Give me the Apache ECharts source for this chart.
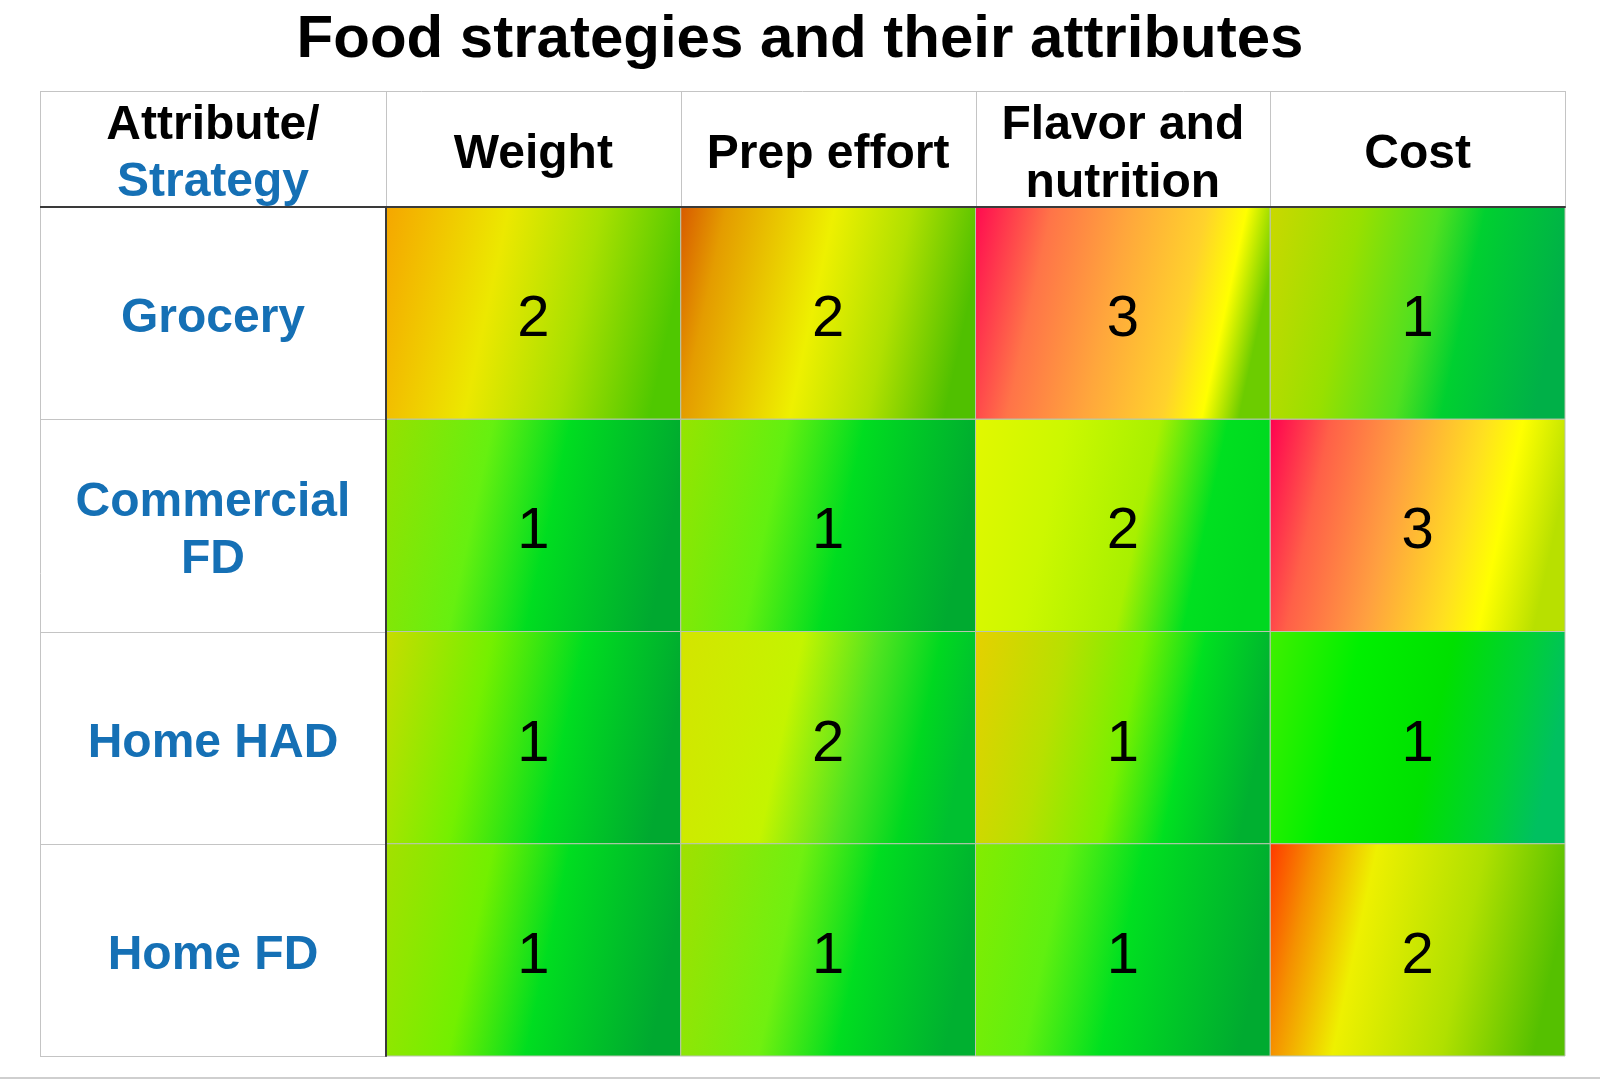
<!DOCTYPE html>
<html>
<head>
<meta charset="utf-8">
<script src="https://cdn.jsdelivr.net/npm/echarts@6/dist/echarts.min.js"></script>
<style>
  html, body { margin: 0; padding: 0; background: #ffffff; }
  #chart { width: 1600px; height: 1080px; }
</style>
</head>
<body>
<div id="chart"></div>
<script>
// ---------------- DATA ----------------
const titleText = 'Food strategies and their attributes';
const attributes = ['Weight', 'Prep effort', 'Flavor and\nnutrition', 'Cost'];
const strategies = ['Grocery', 'Commercial\nFD', 'Home HAD', 'Home FD'];
const groceryScores    = [2, 2, 3, 1];
const commercialScores = [1, 1, 2, 3];
const homeHadScores    = [1, 2, 1, 1];
const homeFdScores     = [1, 1, 1, 2];
const scoreRows = [groceryScores, commercialScores, homeHadScores, homeFdScores];

// ---------------- STYLES (cell gradient colour stops) ----------------
const cellStops = [
  [ // Grocery
    [[0, '#f5a600'], [0.4, '#ece800'], [0.7, '#a8e000'], [1, '#4fc800']],
    [[0, '#d85a00'], [0.15, '#e49c00'], [0.5, '#eef000'], [0.75, '#b0e000'], [1, '#50c000']],
    [[0, '#ff0a50'], [0.25, '#ff7448'], [0.5, '#ffa63c'], [0.75, '#ffd22c'], [0.88, '#ffff00'], [1, '#6ccc00']],
    [[0, '#cad800'], [0.3, '#98e000'], [0.55, '#50e020'], [0.7, '#00d030'], [1, '#00b048']]
  ],
  [ // Commercial FD
    [[0, '#96e000'], [0.35, '#66f010'], [0.6, '#00dd20'], [1, '#00a830']],
    [[0, '#96e400'], [0.35, '#62f010'], [0.6, '#00dd20'], [1, '#00aa30']],
    [[0, '#e2f800'], [0.3, '#ccf800'], [0.6, '#a8f000'], [0.82, '#00e020'], [1, '#00d820']],
    [[0, '#ff0050'], [0.2, '#ff6048'], [0.45, '#ffa040'], [0.7, '#ffe020'], [0.82, '#ffff00'], [1, '#b8e000']]
  ],
  [ // Home HAD
    [[0, '#c8dc00'], [0.35, '#74f000'], [0.65, '#00dd20'], [1, '#00a830']],
    [[0, '#d4e400'], [0.4, '#c4f400'], [0.65, '#50e420'], [0.85, '#00d820'], [1, '#00c030']],
    [[0, '#e6d000'], [0.3, '#b8e000'], [0.55, '#78f000'], [0.75, '#00e020'], [1, '#00b030']],
    [[0, '#40f000'], [0.3, '#00f000'], [0.6, '#00e000'], [0.85, '#00d038'], [1, '#00c060']]
  ],
  [ // Home FD
    [[0, '#a4e000'], [0.35, '#72f000'], [0.6, '#00dd20'], [1, '#00a830']],
    [[0, '#a0e000'], [0.4, '#70f010'], [0.65, '#00dd20'], [1, '#00b030']],
    [[0, '#84ec00'], [0.3, '#60f010'], [0.55, '#00e020'], [1, '#00aa30']],
    [[0, '#ff3800'], [0.15, '#f59000'], [0.35, '#eef000'], [0.7, '#b0e000'], [1, '#55c000']]
  ]
];

// ---------------- LAYOUT ----------------
const GRID = { left: 386, right: 35, top: 207, bottom: 24 };
const HEADER_TOP = 91;
const TABLE_LEFT = 40;
const W = 1600, H = 1080;
const FONT = '"Liberation Sans", Arial, Helvetica, sans-serif';
const BLUE = '#1570b5';
const LINE_GRAY = '#c4c4c4';
const LABEL_SIZE = 48;
const LABEL_CENTER_X = (TABLE_LEFT + GRID.left) / 2;

const cellData = [];
scoreRows.forEach((row, r) => row.forEach((v, c) => cellData.push([c, r, v])));

const gridW = W - GRID.left - GRID.right;
const gridH = H - GRID.top - GRID.bottom;
const colW = gridW / attributes.length;
const rowH = gridH / strategies.length;
const tableRight = W - GRID.right;
const tableBottom = H - GRID.bottom;

const graphics = [];
// header frame
graphics.push({ type: 'line', shape: { x1: TABLE_LEFT, y1: HEADER_TOP + 0.5, x2: tableRight, y2: HEADER_TOP + 0.5 }, style: { stroke: LINE_GRAY, lineWidth: 1 } });
for (let i = 0; i <= attributes.length; i++) {
  const x = Math.round(GRID.left + i * colW) + 0.5;
  graphics.push({ type: 'line', shape: { x1: x, y1: HEADER_TOP, x2: x, y2: GRID.top }, style: { stroke: LINE_GRAY, lineWidth: 1 } });
}
// label column frame
graphics.push({ type: 'line', shape: { x1: TABLE_LEFT + 0.5, y1: HEADER_TOP, x2: TABLE_LEFT + 0.5, y2: tableBottom }, style: { stroke: LINE_GRAY, lineWidth: 1 } });
for (let j = 1; j <= strategies.length; j++) {
  const y = Math.round(GRID.top + j * rowH) + 0.5;
  graphics.push({ type: 'line', shape: { x1: TABLE_LEFT, y1: y, x2: GRID.left, y2: y }, style: { stroke: LINE_GRAY, lineWidth: 1 } });
}
// dark header rule across label column
graphics.push({ type: 'line', z: 10, shape: { x1: TABLE_LEFT, y1: GRID.top, x2: GRID.left, y2: GRID.top }, style: { stroke: '#3a3a3a', lineWidth: 2 } });
// corner label
graphics.push({
  type: 'text', x: LABEL_CENTER_X, y: (HEADER_TOP + GRID.top) / 2 + 5,
  style: {
    text: '{a|Attribute/}\n{b|Strategy}',
    align: 'center', verticalAlign: 'middle',
    rich: {
      a: { fontFamily: FONT, fontSize: LABEL_SIZE, fontWeight: 'bold', fill: '#000', lineHeight: 57 },
      b: { fontFamily: FONT, fontSize: LABEL_SIZE, fontWeight: 'bold', fill: BLUE, lineHeight: 57 }
    }
  }
});
// bottom page rule
graphics.push({ type: 'line', shape: { x1: 0, y1: 1078, x2: W, y2: 1078 }, style: { stroke: '#cfcfcf', lineWidth: 2 } });

const chart = echarts.init(document.getElementById('chart'), null, { renderer: 'canvas' });
chart.setOption({
  backgroundColor: '#ffffff',
  animation: false,
  title: {
    text: titleText,
    left: 'center',
    top: 5,
    textStyle: { fontFamily: FONT, fontSize: 60, fontWeight: 'bold', color: '#000' }
  },
  grid: { left: GRID.left, right: GRID.right, top: GRID.top, bottom: GRID.bottom, containLabel: false },
  xAxis: {
    type: 'category',
    data: attributes,
    position: 'top',
    z: 5,
    axisLine: { show: true, lineStyle: { color: '#3a3a3a', width: 2 } },
    axisTick: { show: false },
    splitLine: { show: false },
    axisLabel: {
      interval: 0,
      margin: 52,
      verticalAlign: 'middle',
      fontFamily: FONT, fontSize: LABEL_SIZE, fontWeight: 'bold', color: '#000', lineHeight: 58
    }
  },
  yAxis: {
    type: 'category',
    data: strategies,
    inverse: true,
    z: 5,
    axisLine: { show: true, lineStyle: { color: '#3a3a3a', width: 2 } },
    axisTick: { show: false },
    splitLine: { show: false },
    // row labels are drawn by the series below (slightly below the row centre, as in the reference)
    axisLabel: { show: false }
  },
  series: [{
    type: 'custom',
    data: cellData,
    encode: { x: 0, y: 1 },
    clip: false,
    renderItem: function (params, api) {
      const c = api.value(0), r = api.value(1), v = api.value(2);
      const p = api.coord([c, r]);
      const s = api.size([1, 1]);
      const stops = cellStops[r][c].map(st => ({ offset: st[0], color: st[1] }));
      const children = [
        {
          type: 'rect',
          shape: { x: p[0] - s[0] / 2, y: p[1] - s[1] / 2, width: s[0], height: s[1] },
          style: {
            fill: { type: 'linear', x: 0, y: 0, x2: 1, y2: 0.3, colorStops: stops },
            stroke: '#b9c4b0', lineWidth: 1
          }
        },
        {
          type: 'text',
          x: p[0], y: p[1] + 7,
          style: {
            text: String(v), align: 'center', verticalAlign: 'middle',
            fontFamily: FONT, fontSize: 58, fill: '#000'
          }
        }
      ];
      if (c === 0) {
        children.push({
          type: 'text',
          x: LABEL_CENTER_X, y: p[1] + 6,
          style: {
            text: strategies[r], align: 'center', verticalAlign: 'middle',
            fontFamily: FONT, fontSize: LABEL_SIZE, fontWeight: 'bold', fill: BLUE, lineHeight: 57
          }
        });
      }
      return { type: 'group', children: children };
    }
  }],
  graphic: graphics
});
</script>
</body>
</html>
